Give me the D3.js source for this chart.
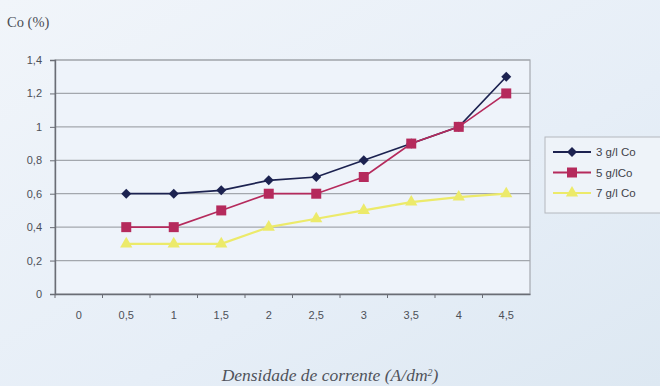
<!DOCTYPE html>
<html>
<head>
<meta charset="utf-8">
<script src="https://cdn.jsdelivr.net/npm/d3@7"></script>
<style>
  html, body { margin: 0; padding: 0; }
  body { width: 660px; height: 386px; overflow: hidden; }
  svg { display: block; }
</style>
</head>
<body>
<svg id="chart" width="660" height="386"></svg>
<script>
// Current density categories (A/dm²)
const categories = ["0", "0,5", "1", "1,5", "2", "2,5", "3", "3,5", "4", "4,5"];
const pointCats = ["0,5", "1", "1,5", "2", "2,5", "3", "3,5", "4", "4,5"];
// Co content (%) for each bath concentration
const co3 = [0.6, 0.6, 0.62, 0.68, 0.7, 0.8, 0.9, 1.0, 1.3];
const co5 = [0.4, 0.4, 0.5, 0.6, 0.6, 0.7, 0.9, 1.0, 1.2];
const co7 = [0.3, 0.3, 0.3, 0.4, 0.45, 0.5, 0.55, 0.58, 0.6];
const seriesNames = ["3 g/l Co", "5 g/lCo", "7 g/l Co"];
const yTicks = [0, 0.2, 0.4, 0.6, 0.8, 1, 1.2, 1.4];

const series = [
  { name: seriesNames[0], values: co3, color: "#1c2250", marker: "diamond" },
  { name: seriesNames[1], values: co5, color: "#b52a5c", marker: "square" },
  { name: seriesNames[2], values: co7, color: "#ecea6a", marker: "triangle" }
];

const svg = d3.select("#chart");
const W = 660, H = 386;

// background wash
const defs = svg.append("defs");
const bg = defs.append("linearGradient").attr("id", "bg").attr("x1", 0).attr("y1", 0).attr("x2", 1).attr("y2", 1);
bg.append("stop").attr("offset", "0%").attr("stop-color", "#f1f5fa");
bg.append("stop").attr("offset", "60%").attr("stop-color", "#e6eef7");
bg.append("stop").attr("offset", "100%").attr("stop-color", "#dde8f2");
svg.append("rect").attr("width", W).attr("height", H).attr("fill", "url(#bg)");

const plot = { left: 55, right: 530, top: 60, bottom: 294 };

const x = d3.scaleBand().domain(categories).range([plot.left, plot.right]).paddingInner(0).paddingOuter(0);
const y = d3.scaleLinear().domain([0, 1.4]).range([plot.bottom, plot.top]);
const cx = c => x(c) + x.bandwidth() / 2;

// plot area
svg.append("rect")
  .attr("x", plot.left).attr("y", plot.top)
  .attr("width", plot.right - plot.left).attr("height", plot.bottom - plot.top)
  .attr("fill", "#eef3fa").attr("stroke", "#a5a9b0").attr("stroke-width", 1.2);

// gridlines
svg.append("g").selectAll("line").data(yTicks.filter(t => t > 0)).join("line")
  .attr("x1", plot.left).attr("x2", plot.right)
  .attr("y1", d => y(d)).attr("y2", d => y(d))
  .attr("stroke", "#a3a7ad").attr("stroke-width", 1.2);

const tickFont = "Liberation Sans, Arial, sans-serif";

// y axis
const yAxis = d3.axisLeft(y).tickValues(yTicks).tickSize(5).tickPadding(8)
  .tickFormat(d => d3.format("~g")(d).replace(".", ","));
const gy = svg.append("g").attr("transform", `translate(${plot.left},0)`).call(yAxis);
gy.select(".domain").attr("stroke", "#6a6d75").attr("stroke-width", 1.4);
gy.selectAll(".tick line").attr("stroke", "#6a6d75");
gy.selectAll(".tick text").attr("fill", "#4d5058").attr("font-family", tickFont).attr("font-size", 11);

// x axis: ticks on category boundaries
const gx = svg.append("g").attr("transform", `translate(0,${plot.bottom})`).call(d3.axisBottom(x).tickSize(0).tickPadding(17));
gx.select(".domain").attr("stroke", "#6a6d75").attr("stroke-width", 1.4);
gx.selectAll(".tick text").attr("fill", "#4d5058").attr("font-family", tickFont).attr("font-size", 11);
gx.append("g").selectAll("line").data(categories).join("line")
  .attr("x1", d => x(d)).attr("x2", d => x(d)).attr("y1", 0).attr("y2", 4)
  .attr("stroke", "#6a6d75");

// marker shapes
const diamond = d3.symbol().type(d3.symbolSquare).size(50);
const symbolOf = {
  diamond: () => diamond(),
  square: d3.symbol().type(d3.symbolSquare).size(100),
  triangle: d3.symbol().type(d3.symbolTriangle).size(65)
};
const markerRotate = m => (m === "diamond" ? " rotate(45)" : "");

const line = d3.line().x(d => cx(d.c)).y(d => y(d.v));

series.forEach(s => {
  const pts = s.values.map((v, i) => ({ c: pointCats[i], v }));
  const g = svg.append("g");
  g.append("path").datum(pts).attr("d", line)
    .attr("fill", "none").attr("stroke", s.color).attr("stroke-width", s.marker === "triangle" ? 2.2 : 1.7);
  g.selectAll("path.m").data(pts).join("path").attr("class", "m")
    .attr("transform", d => `translate(${cx(d.c)},${y(d.v)})${markerRotate(s.marker)}`)
    .attr("d", symbolOf[s.marker]())
    .attr("fill", s.color);
});

// legend
const lg = svg.append("g");
lg.append("rect").attr("x", 545).attr("y", 137).attr("width", 125).attr("height", 76)
  .attr("fill", "#eef3f9").attr("stroke", "#b4b8be").attr("stroke-width", 1);
series.forEach((s, i) => {
  const ly = 152 + i * 20.5;
  lg.append("line").attr("x1", 553).attr("x2", 591).attr("y1", ly).attr("y2", ly)
    .attr("stroke", s.color).attr("stroke-width", 1.8);
  lg.append("path").attr("transform", `translate(572,${ly})${markerRotate(s.marker)}`)
    .attr("d", symbolOf[s.marker]()).attr("fill", s.color);
  lg.append("text").attr("x", 596).attr("y", ly + 4).text(s.name)
    .attr("fill", "#3f424a").attr("font-family", tickFont).attr("font-size", 11.5);
});

// axis titles
svg.append("text").attr("x", 7).attr("y", 27).text("Co (%)")
  .attr("fill", "#4a4d55").attr("font-family", "Liberation Serif, Times New Roman, serif").attr("font-size", 14.5);

svg.append("text").attr("x", 330).attr("y", 381).attr("text-anchor", "middle")
  .attr("fill", "#50535b").attr("font-family", "Liberation Serif, Times New Roman, serif")
  .attr("font-style", "italic").attr("font-size", 17.5)
  .html("Densidade de corrente (A/dm<tspan baseline-shift='super' font-size='10'>2</tspan>)");
</script>
</body>
</html>
